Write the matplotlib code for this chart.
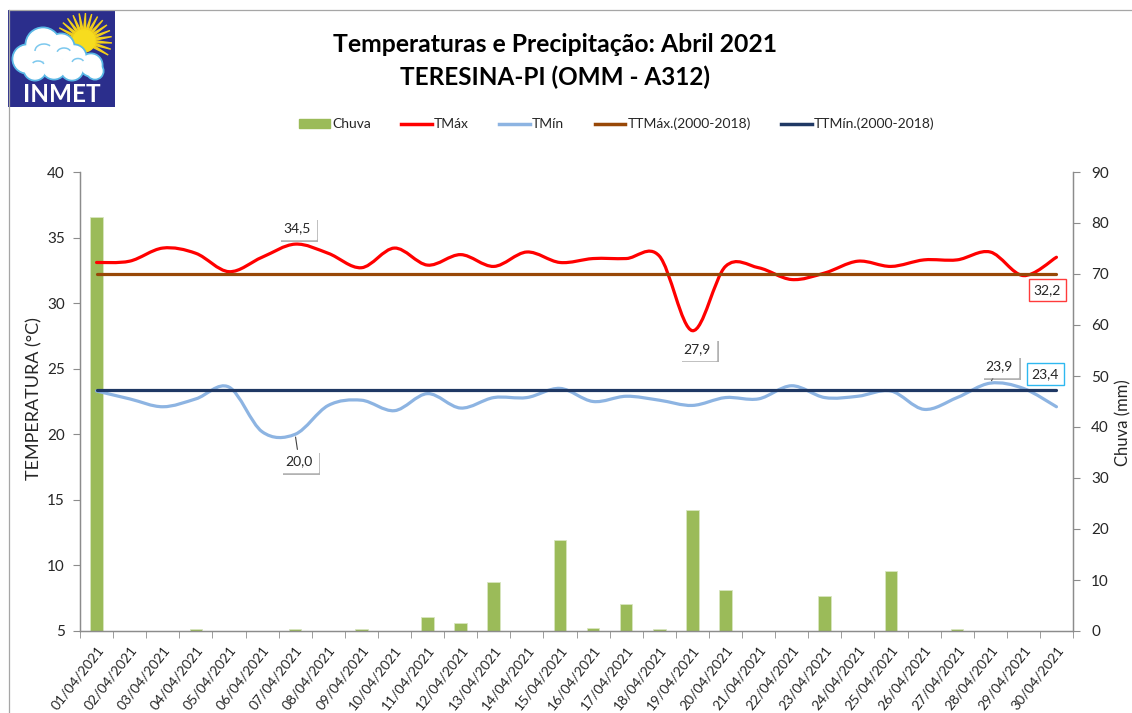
import numpy as np
import matplotlib
matplotlib.use("Agg")
import matplotlib.pyplot as plt
from matplotlib.path import Path
from matplotlib.patches import PathPatch, Rectangle, Circle, Polygon, Patch, Arc
from matplotlib.lines import Line2D
import matplotlib.patheffects as pe

plt.rcParams['font.family'] = ['Lato', 'DejaVu Sans']

# ---------------- data ----------------
days = [f"{d:02d}/04/2021" for d in range(1, 31)]
chuva = [81.2, 0, 0, 0.3, 0, 0, 0.3, 0, 0.3, 0, 2.8, 1.5, 9.6, 0, 17.8,
         0.6, 5.2, 0.4, 23.8, 8.1, 0, 0, 6.8, 0, 11.7, 0, 0.4, 0, 0, 0]
tmax = [33.1, 33.2, 34.2, 33.8, 32.4, 33.5, 34.5, 33.8, 32.7, 34.2, 32.9, 33.7, 32.8, 33.9, 33.1,
        33.4, 33.4, 33.6, 27.9, 32.8, 32.7, 31.8, 32.3, 33.2, 32.8, 33.3, 33.3, 33.9, 32.1, 33.5]
tmin = [23.3, 22.7, 22.1, 22.7, 23.6, 20.2, 20.0, 22.2, 22.6, 21.8, 23.1, 22.0, 22.8, 22.8, 23.5,
        22.5, 22.9, 22.6, 22.2, 22.8, 22.7, 23.7, 22.8, 22.9, 23.3, 21.9, 22.8, 23.9, 23.5, 22.1]
ttmax_norm = 32.2
ttmin_norm = 23.4
temp_ticks = [5, 10, 15, 20, 25, 30, 35, 40]
rain_ticks = [0, 10, 20, 30, 40, 50, 60, 70, 80, 90]

# ---------------- style ----------------
C_BAR = '#9BBB59'
C_TMAX = '#FF0000'
C_TMIN = '#8DB4E2'
C_TTMAX = '#984807'
C_TTMIN = '#1F3864'
C_AXIS = '#8C8C8C'
C_TXT = '#262626'

W, H = 1132, 713
fig = plt.figure(figsize=(W / 100, H / 100), dpi=100)


def fx(px):
    return px / W


def fy(py):
    return 1 - py / H


# outer border
fig.add_artist(Line2D([fx(8.5), fx(8.5)], [fy(10), fy(713)], color='#A6A6A6', lw=0.9))
fig.add_artist(Line2D([fx(8.5), fx(1132)], [fy(10), fy(10)], color='#A6A6A6', lw=0.9))

# main axes
L, R, T, B = 80, 1073, 172, 631
ax2 = fig.add_axes([fx(L), fy(B), fx(R - L), (B - T) / H])
ax = ax2.twinx()
ax.set_zorder(ax2.get_zorder() + 1)
ax.patch.set_visible(False)
ax.yaxis.tick_left()
ax.yaxis.set_label_position('left')
ax2.yaxis.tick_right()
ax2.yaxis.set_label_position('right')

x = np.arange(1, len(days) + 1)

ax2.bar(x, chuva, width=0.38, color=C_BAR, edgecolor='#D8E6C0', linewidth=0.6, zorder=2)
ax2.set_ylim(0, 90)
ax2.set_yticks(rain_ticks)
ax.set_ylim(5, 40)
ax.set_yticks(temp_ticks)
ax.set_xlim(0.5, len(days) + 0.5)
ax2.set_xlim(0.5, len(days) + 0.5)


def smooth_path(xs, ys):
    pts = np.column_stack([xs, ys]).astype(float)
    n = len(pts)
    verts = [pts[0]]
    codes = [Path.MOVETO]
    for i in range(n - 1):
        p0 = pts[max(i - 1, 0)]
        p1 = pts[i]
        p2 = pts[i + 1]
        p3 = pts[min(i + 2, n - 1)]
        c1 = p1 + (p2 - p0) / 6.0
        c2 = p2 - (p3 - p1) / 6.0
        verts += [c1, c2, p2]
        codes += [Path.CURVE4] * 3
    return Path(verts, codes)


ax.add_patch(PathPatch(smooth_path(x, tmax), fill=False, edgecolor=C_TMAX, lw=2.3,
                       capstyle='round', joinstyle='round', zorder=4))
ax.add_patch(PathPatch(smooth_path(x, tmin), fill=False, edgecolor=C_TMIN, lw=2.3,
                       capstyle='round', joinstyle='round', zorder=4))
ax.plot([x[0], x[-1]], [ttmax_norm, ttmax_norm], color=C_TTMAX, lw=2.3, solid_capstyle='round', zorder=5)
ax.plot([x[0], x[-1]], [ttmin_norm, ttmin_norm], color=C_TTMIN, lw=2.3, solid_capstyle='round', zorder=5)

# axes styling
for a in (ax, ax2):
    a.spines['top'].set_visible(False)
    for s in ('left', 'right', 'bottom'):
        a.spines[s].set_color(C_AXIS)
        a.spines[s].set_linewidth(0.9)
ax.tick_params(axis='y', which='major', direction='out', length=5, color=C_AXIS,
               labelsize=11, labelcolor=C_TXT, pad=6)
ax2.tick_params(axis='y', which='major', direction='out', length=5, color=C_AXIS,
                labelsize=11, labelcolor=C_TXT, pad=8)

ax.set_xticks(x)
ax.set_xticklabels([])
ax.tick_params(axis='x', which='major', length=0)
ax2.set_xticks(x)
ax2.set_xticklabels(days, rotation=52, ha='right', va='top', rotation_mode='anchor',
                    fontsize=10, color=C_TXT)
ax2.tick_params(axis='x', which='major', length=0, pad=9)
ax2.set_xticks(np.arange(0.5, len(days) + 1, 1.0), minor=True)
ax2.tick_params(axis='x', which='minor', length=5, color=C_AXIS, direction='out')

# axis titles
fig.text(fx(34), fy(399), 'TEMPERATURA (°C)', rotation=90, ha='center', va='center',
         fontsize=13, color=C_TXT)
fig.text(fx(1123), fy(423), 'Chuva (mm)', rotation=90, ha='center', va='center',
         fontsize=12, color=C_TXT)

# titles
fig.text(fx(555), fy(45), 'Temperaturas e Precipitação: Abril 2021', ha='center', va='center',
         fontsize=17.8, fontweight='bold', color='black')
fig.text(fx(555), fy(77), 'TERESINA-PI (OMM - A312)', ha='center', va='center',
         fontsize=17.5, fontweight='bold', color='black')

# legend
handles = [Patch(facecolor=C_BAR, edgecolor=C_BAR),
           Line2D([], [], color=C_TMAX, lw=2.5),
           Line2D([], [], color=C_TMIN, lw=2.5),
           Line2D([], [], color=C_TTMAX, lw=2.5),
           Line2D([], [], color=C_TTMIN, lw=2.5)]
labels = ['Chuva', 'TMáx', 'TMín', 'TTMáx.(2000-2018)', 'TTMín.(2000-2018)']
fig.legend(handles, labels, loc='center', bbox_to_anchor=(fx(617), fy(124)), ncol=5,
           frameon=False, fontsize=10, handlelength=2.2, handleheight=0.6,
           handletextpad=0.15, columnspacing=2.2, labelcolor=C_TXT)

# annotations
shadow = [pe.withSimplePatchShadow(offset=(2, -2), shadow_rgbFace='#808080', alpha=0.6)]


def label(xv, yv, txt, dx, dy, edge='white', leader=False, shade=True):
    kw = dict(xy=(xv, yv), xycoords='data', xytext=(dx, dy), textcoords='offset pixels',
              ha='center', va='center', fontsize=10, color=C_TXT, zorder=10,
              bbox=dict(boxstyle='square,pad=0.35', fc='white', ec=edge, lw=1.0))
    if leader:
        kw['arrowprops'] = dict(arrowstyle='-', color='#404040', lw=0.8, shrinkA=0, shrinkB=2)
    a = ax.annotate(txt, **kw)
    if shade:
        a.get_bbox_patch().set_path_effects(shadow)
    return a


imax = int(np.argmax(tmax))
imin = int(np.argmin(tmax))
jmin = int(np.argmin(tmin))
jmax = int(np.argmax(tmin))
fmt = lambda v: f"{v:.1f}".replace('.', ',')
label(x[imax], tmax[imax], fmt(tmax[imax]), 2, 16)
label(x[imin], tmax[imin], fmt(tmax[imin]), 5, -18)
label(x[jmin], tmin[jmin], fmt(tmin[jmin]), 4, -27, leader=True)
label(x[jmax], tmin[jmax], fmt(tmin[jmax]), 9, 17, leader=True)
label(x[-1], ttmax_norm, fmt(ttmax_norm), -9, -16, edge='#FF3B3B', shade=False)
label(x[-1], ttmin_norm, fmt(ttmin_norm), -11, 16, edge='#2EB8F0', shade=False)

# ---------------- INMET logo ----------------
lax = fig.add_axes([fx(8), fy(107), fx(115) - fx(8), (107 - 10) / H])
lax.set_xlim(0, 107)
lax.set_ylim(97, 0)
lax.axis('off')
lax.add_patch(Rectangle((0, 0), 107, 97, color='#2B2E8C', zorder=0))
sx, sy = 76, 31
for ang in np.linspace(-30, 165, 16):
    t = np.deg2rad(ang)
    tip = (sx + 28 * np.cos(t), sy - 28 * np.sin(t))
    b1 = (sx + 10 * np.cos(t + 0.11), sy - 10 * np.sin(t + 0.11))
    b2 = (sx + 10 * np.cos(t - 0.11), sy - 10 * np.sin(t - 0.11))
    lax.add_patch(Polygon([b1, tip, b2], color='#F2CF1A', zorder=1))
lax.add_patch(Circle((sx, sy), 11, color='#F7DC1E', zorder=2))
cloud = [(19, 49, 13), (35, 35, 16), (53, 37, 12), (66, 47, 11), (83, 55, 10),
         (27, 59, 10), (46, 57, 11), (64, 59, 10), (87, 61, 7)]
for cxx, cyy, r in cloud:
    lax.add_patch(Circle((cxx, cyy), r + 1.8, color='#5AB8E6', zorder=3))
for cxx, cyy, r in cloud:
    lax.add_patch(Circle((cxx, cyy), r, color='white', zorder=4))
for (cxx, cyy, w, h, a1, a2) in [(36, 41, 18, 14, 180, 320), (56, 43, 14, 10, 190, 340),
                                  (30, 55, 12, 8, 200, 350), (70, 53, 12, 9, 190, 340)]:
    lax.add_patch(Arc((cxx, cyy), w, h, theta1=a1, theta2=a2, ec='#7CC8EE', lw=1.1, zorder=5))
lax.text(53.5, 84.5, 'INMET', ha='center', va='center', fontsize=17.5, fontweight='bold',
         color='white', zorder=6)

fig.savefig('out.png', dpi=100)
